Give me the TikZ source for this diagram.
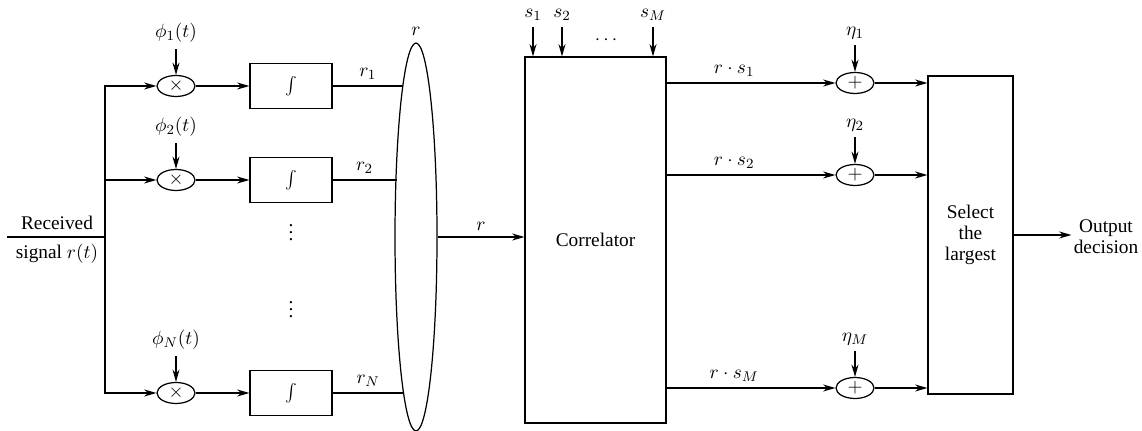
\documentclass[tikz,border=0pt]{standalone}
\usepackage{fontspec}
\setmainfont{Liberation Serif}
\usetikzlibrary{arrows.meta,shapes.geometric}
\begin{document}
\begin{tikzpicture}[x=0.02cm,y=-0.02cm,line width=0.7pt,
  >={Stealth[length=7pt,width=4pt]},
  font=\fontsize{11}{12}\selectfont,
  intbox/.style={draw,minimum width=1.64cm,minimum height=0.9cm,inner sep=0pt},
  mixer/.style={draw,ellipse,minimum width=0.76cm,minimum height=0.42cm,inner sep=0pt}]
\useasboundingbox (0,0) rectangle (1142,431);

% Input and fork
\coordinate (src) at (7,237);
\coordinate (fork) at (105,237);
\draw (src) -- (fork);
\node[above] (rxa) at (57,236) {Received};
\node[below] (rxb) at (57,238) {signal $r(t)$};

% Multipliers
\node[mixer] (mix1) at (176,86) {$\times$};
\node[mixer] (mix2) at (176,180) {$\times$};
\node[mixer] (mixN) at (176,393) {$\times$};
\draw[->] (fork) |- (mix1);
\draw[->] (fork) |- (mix2);
\draw[->] (fork) |- (mixN);

% Basis functions
\node (phi1) at (176,33) {$\phi_1(t)$};
\node (phi2) at (176,127) {$\phi_2(t)$};
\node (phiN) at (176,340) {$\phi_N(t)$};
\draw[->] (phi1.south) -- (mix1);
\draw[->] (phi2.south) -- (mix2);
\draw[->] (phiN.south) -- (mixN);

% Integrators
\node[intbox] (int1) at (291,86) {$\int$};
\node[intbox] (int2) at (291,180) {$\int$};
\node[intbox] (intN) at (291,393) {$\int$};
\draw[->] (mix1) -- (int1);
\draw[->] (mix2) -- (int2);
\draw[->] (mixN) -- (intN);
\node (dots1) at (291,227) {$\vdots$};
\node (dots2) at (291,304) {$\vdots$};

% Vector bus
\node[draw,ellipse,minimum width=0.84cm,minimum height=7.76cm,inner sep=0pt] (bus) at (416,237) {};
\node (rvec) at (416,31) {$r$};
\coordinate (e1) at (403,86);
\coordinate (e2) at (396.5,180);
\coordinate (eN) at (403.5,393);
\draw (int1) -- node[above] {$r_1$} (e1);
\draw (int2) -- node[above] {$r_2$} (e2);
\draw (intN) -- node[above] {$r_N$} (eN);

% Correlator
\node[draw,minimum width=2.82cm,minimum height=7.32cm,inner sep=0pt] (cor) at (595.5,240) {Correlator};
\draw[->] (bus.east) -- node[above] {$r$} (bus.east -| cor.west);
\node (s1) at (533,15) {$s_1$};
\node (s2) at (562,15) {$s_2$};
\node (sM) at (653,15) {$s_M$};
\node (sdots) at (606,40) {$\cdots$};
\draw[->] (s1.south) -- (s1.south |- cor.north);
\draw[->] (s2.south) -- (s2.south |- cor.north);
\draw[->] (sM.south) -- (sM.south |- cor.north);

% Adders
\node[mixer] (add1) at (855,83) {$+$};
\node[mixer] (add2) at (855,175) {$+$};
\node[mixer] (addM) at (855,388) {$+$};
\draw[->] (cor.east |- add1) -- node[above,pos=0.4] {$r\cdot s_1$} (add1);
\draw[->] (cor.east |- add2) -- node[above,pos=0.4] {$r\cdot s_2$} (add2);
\draw[->] (cor.east |- addM) -- node[above,pos=0.4] {$r\cdot s_M$} (addM);
\node (eta1) at (855,33) {$\eta_1$};
\node (eta2) at (855,125) {$\eta_2$};
\node (etaM) at (855,339) {$\eta_M$};
\draw[->] (eta1.south) -- (add1);
\draw[->] (eta2.south) -- (add2);
\draw[->] (etaM.south) -- (addM);

% Decision
\node[draw,minimum width=1.7cm,minimum height=6.36cm,inner sep=0pt,align=center] (sel) at (970.5,235) {Select\\the\\largest};
\draw[->] (add1) -- (add1 -| sel.west);
\draw[->] (add2) -- (add2 -| sel.west);
\draw[->] (addM) -- (addM -| sel.west);
\node[align=center,inner sep=1pt] (out) at (1106,237) {Output\\decision};
\draw[->] (sel.east) -- (sel.east -| out.west);

\end{tikzpicture}
\end{document}
